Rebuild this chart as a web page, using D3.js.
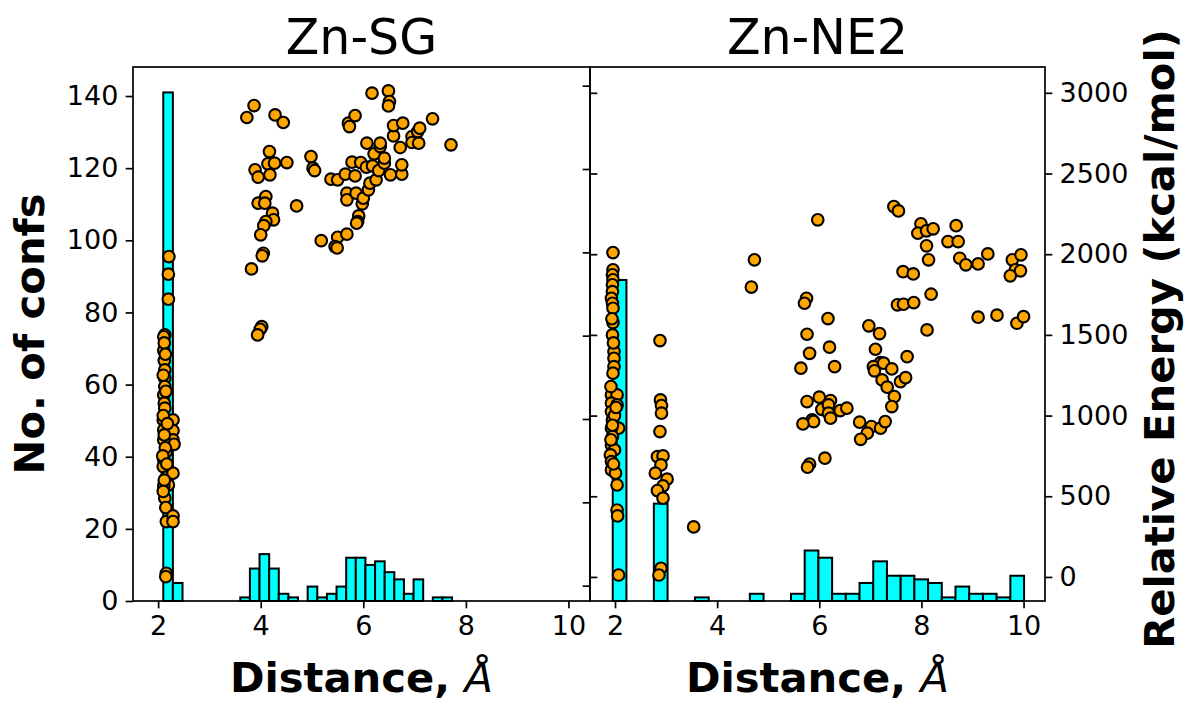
<!DOCTYPE html>
<html><head><meta charset="utf-8">
<script src="https://cdn.jsdelivr.net/npm/d3@7"></script>
<style>body{margin:0;background:#fff} text{font-family:"DejaVu Sans",sans-serif;fill:#000}</style>
</head><body>
<svg id="c" width="1187" height="702"></svg>
<script>
const panelTitles = ["Zn-SG", "Zn-NE2"];
const xTicks = [2, 4, 6, 8, 10];
const countTicks = [0, 20, 40, 60, 80, 100, 120, 140];
const energyTicks = [0, 500, 1000, 1500, 2000, 2500, 3000];
const xLabel = "Distance, ";
const xLabelUnit = "Å";
const yLabelLeft = "No. of confs";
const yLabelRight = "Relative Energy (kcal/mol)";

// Histogram (30 equal bins each)
const sgBinStart = 2.10, sgBinWidth = 0.1877;
const sgCounts = [141,5,0,0,0,0,0,0,1,9,13,9,2,1,0,4,1,2,4,12,12,10,11,8,6,2,6,0,1,1];
const ne2BinStart = 1.955, ne2BinWidth = 0.2685;
const ne2Counts = [89,0,0,27,0,0,1,0,0,0,2,0,0,2,14,12,2,2,5,11,7,7,6,5,1,4,2,2,1,7];

// Scatter: [distance, relative energy]
const sgPoints = [
[2.21,1985],[2.20,1876],[2.20,1721],[2.13,1500],[2.11,1488],[2.11,1403],[2.12,1341],[2.13,1283],
[2.13,1232],[2.13,1180],[2.11,1128],[2.12,1077],[2.13,1046],[2.10,973],[2.29,973],[2.11,911],
[2.29,907],[2.29,849],[2.31,822],[2.16,777],[2.11,849],[2.11,725],[2.10,684],[2.16,618],
[2.29,643],[2.20,570],[2.11,564],[2.13,488],[2.15,430],[2.16,343],[2.29,378],[2.29,343],
[2.16,23],[2.15,2],[2.12,1450],[2.14,1380],[2.10,1250],[2.15,1150],[2.10,1000],[2.18,950],
[2.12,880],[2.14,800],[2.09,750],[2.17,700],[2.12,600],[2.10,530],
[3.73,2847],[3.87,2921],[4.28,2863],[4.44,2816],[4.17,2636],[4.14,2560],[4.27,2564],[4.51,2568],
[3.89,2523],[3.95,2477],[4.18,2492],[4.98,2605],[5.02,2533],[5.05,2518],[3.95,2316],[4.10,2357],
[4.08,2316],[4.70,2299],[4.23,2254],[4.25,2213],[4.10,2202],[4.06,2177],[4.00,2120],[4.05,2006],
[4.03,1990],[3.82,1909],[4.02,1551],[3.99,1535],[3.94,1500],[5.18,2084],[5.50,2105],[5.68,2124],
[5.45,2047],[5.49,2039],[5.37,2465],[5.50,2461],[5.65,2496],[5.84,2485],[5.78,2570],[5.95,2568],
[5.68,2378],[5.68,2337],[5.86,2378],[5.98,2312],[6.00,2347],[5.91,2237],[5.89,2202],[5.87,2192],
[6.10,2399],[6.13,2440],[6.25,2461],[6.06,2539],[6.18,2547],[6.30,2518],[6.41,2564],[6.41,2595],
[6.21,2622],[6.33,2667],[6.07,2688],[6.33,2688],[6.53,2492],[6.75,2496],[6.75,2554],[6.72,2661],
[6.59,2733],[6.59,2797],[6.77,2812],[6.95,2729],[6.95,2692],[7.08,2688],[7.06,2760],[7.10,2781],
[7.35,2839],[7.71,2678],[5.71,2812],[5.84,2859],[5.73,2791],[6.17,2998],[6.49,3012],[6.51,2946],
[6.49,2919]
];
const ne2Points = [
[1.96,2010],[1.96,1903],[1.95,1872],[1.96,1841],[1.95,1810],[1.95,1768],[1.93,1727],[1.95,1696],
[1.96,1665],[1.96,1576],[1.95,1500],[1.98,1396],[1.98,1355],[1.98,1303],[1.96,1263],[1.93,1128],
[2.04,1128],[1.93,1077],[2.04,1066],[1.93,1025],[1.95,973],[2.07,922],[1.93,922],[1.95,870],
[1.93,818],[1.99,787],[1.91,756],[1.93,715],[1.93,663],[2.01,643],[2.04,570],[2.04,415],
[2.05,378],[2.07,12],[1.94,1600],[1.97,1450],[1.92,1180],[1.99,1000],[1.95,940],[1.92,850],
[1.97,700],[2.02,1050],
[2.88,1465],[2.89,1097],[2.91,1062],[2.91,1015],[2.88,901],[2.83,746],[2.94,750],[2.90,694],
[2.79,643],[3.02,606],[2.94,564],[2.83,535],[2.94,488],[2.90,54],[2.86,12],[3.54,310],
[4.73,1965],[4.67,1796],[5.97,2213],[7.46,2295],[7.55,2268],[7.99,2188],[7.93,2130],[8.10,2145],
[8.23,2157],[8.68,2177],[8.10,2052],[8.14,1965],[8.52,2078],[8.72,2078],[8.75,1975],[8.87,1934],
[9.11,1940],[9.30,2002],[9.78,1965],[9.95,1996],[9.84,1903],[9.94,1897],[9.74,1866],[7.64,1892],
[7.84,1878],[8.19,1752],[7.53,1686],[7.65,1690],[7.85,1700],[9.11,1610],[9.48,1622],[9.87,1572],
[10.0,1613],[8.11,1531],[5.75,1727],[5.71,1696],[6.17,1601],[5.76,1504],[6.20,1424],[5.81,1386],
[5.64,1294],[6.30,1303],[6.97,1556],[7.18,1508],[7.10,1411],[7.72,1365],[7.20,1328],[7.06,1303],
[7.08,1277],[7.26,1325],[7.42,1289],[7.23,1221],[7.59,1210],[7.69,1235],[7.33,1176],[7.47,1118],
[7.42,1056],[5.76,1087],[6.00,1114],[6.22,1093],[6.05,1039],[6.18,1066],[6.18,1015],[6.22,984],
[6.41,1031],[6.54,1046],[5.86,973],[5.89,963],[5.68,948],[6.79,959],[7.02,932],[6.94,891],
[6.81,853],[7.20,922],[7.29,963],[6.11,736],[5.81,700],[5.77,680]
];

const W = 1187, H = 702;
const yTop = 67, yBottom = 601;
const panels = [
  {x0: 133, x1: 590, title: panelTitles[0], start: sgBinStart, w: sgBinWidth, counts: sgCounts, pts: sgPoints},
  {x0: 590, x1: 1045, title: panelTitles[1], start: ne2BinStart, w: ne2BinWidth, counts: ne2Counts, pts: ne2Points}
];
const xDomain = [1.51, 10.42];
const yCount = d3.scaleLinear().domain([0, 148.05]).range([yBottom, yTop]);
const yEnergy = d3.scaleLinear().domain([-149, 3160]).range([yBottom, yTop]);
const yEnergyHidden = d3.scaleLinear().domain([-92, 3112]).range([yBottom, yTop]);

const svg = d3.select("#c");
svg.append("rect").attr("width", W).attr("height", H).attr("fill", "#fff");

const tickFont = 27, labelFont = 41.67, titleFont = 49;
const tickLen = 7.3, pad = 7.3, lw = 1.7;
const fmt = d3.format("d");

function styleAxis(g, hideLabels) {
  g.select(".domain").remove();
  g.selectAll(".tick line").attr("stroke", "#000").attr("stroke-width", lw);
  g.selectAll(".tick text").attr("font-size", tickFont).attr("font-family", "DejaVu Sans").attr("fill", "#000");
  if (hideLabels) g.selectAll(".tick text").remove();
}

panels.forEach((p, i) => {
  const x = d3.scaleLinear().domain(xDomain).range([p.x0, p.x1]);
  const g = svg.append("g");
  const bins = p.counts.map((c, k) => ({c, a: p.start + k * p.w, b: p.start + (k + 1) * p.w})).filter(d => d.c > 0);
  g.selectAll("rect.bar").data(bins).enter().append("rect")
    .attr("x", d => x(d.a)).attr("width", d => x(d.b) - x(d.a))
    .attr("y", d => yCount(d.c)).attr("height", d => yCount(0) - yCount(d.c))
    .attr("fill", "#00ffff").attr("stroke", "#000").attr("stroke-width", 2);
  g.selectAll("circle").data(p.pts).enter().append("circle")
    .attr("cx", d => x(d[0])).attr("cy", d => yEnergy(d[1])).attr("r", 5.8)
    .attr("fill", "#ffa500").attr("stroke", "#000").attr("stroke-width", 2.1);
  svg.append("rect").attr("x", p.x0).attr("y", yTop).attr("width", p.x1 - p.x0).attr("height", yBottom - yTop)
    .attr("fill", "none").attr("stroke", "#000").attr("stroke-width", lw);
  const xa = svg.append("g").attr("transform", `translate(0,${yBottom})`)
    .call(d3.axisBottom(x).tickValues(xTicks).tickSize(tickLen).tickPadding(pad).tickFormat(fmt));
  styleAxis(xa, false);
  svg.append("text").attr("x", (p.x0 + p.x1) / 2).attr("y", 54).attr("text-anchor", "middle")
    .attr("font-size", titleFont).text(p.title);
  const xl = svg.append("text").attr("x", (p.x0 + p.x1) / 2).attr("y", 692).attr("text-anchor", "middle")
    .attr("font-size", labelFont);
  xl.append("tspan").attr("font-weight", "bold").text(xLabel);
  xl.append("tspan").attr("font-style", "italic").text(xLabelUnit);
});

const ya = svg.append("g").attr("transform", `translate(133,0)`)
  .call(d3.axisLeft(yCount).tickValues(countTicks).tickSize(tickLen).tickPadding(pad).tickFormat(fmt));
styleAxis(ya, false);
const mid1 = svg.append("g").attr("transform", `translate(590,0)`)
  .call(d3.axisRight(yEnergy).tickValues(energyTicks).tickSize(tickLen));
styleAxis(mid1, true);
const mid2 = svg.append("g").attr("transform", `translate(590,0)`)
  .call(d3.axisLeft(yEnergyHidden).tickValues(energyTicks).tickSize(tickLen));
styleAxis(mid2, true);
const yr = svg.append("g").attr("transform", `translate(1045,0)`)
  .call(d3.axisRight(yEnergy).tickValues(energyTicks).tickSize(tickLen).tickPadding(pad).tickFormat(fmt));
styleAxis(yr, false);

svg.append("text").attr("transform", `translate(44,334) rotate(-90)`).attr("text-anchor", "middle")
  .attr("font-size", labelFont).attr("font-weight", "bold").text(yLabelLeft);
svg.append("text").attr("transform", `translate(1174,339) rotate(-90)`).attr("text-anchor", "middle")
  .attr("font-size", labelFont).attr("font-weight", "bold").text(yLabelRight);
</script>
</body></html>
